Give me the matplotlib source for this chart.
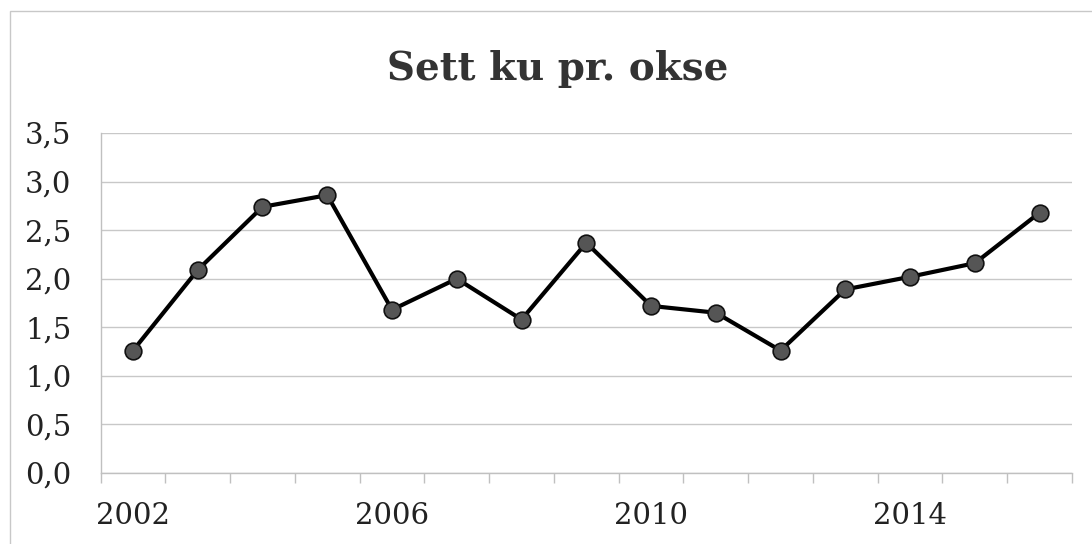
import matplotlib
matplotlib.use("Agg")
import matplotlib.pyplot as plt
from matplotlib.patches import Rectangle
from matplotlib.ticker import FixedLocator, FuncFormatter

title = "Sett ku pr. okse"
years = [2002, 2003, 2004, 2005, 2006, 2007, 2008, 2009, 2010, 2011, 2012, 2013, 2014, 2015, 2016]
values = [1.26, 2.09, 2.74, 2.86, 1.68, 2.00, 1.58, 2.37, 1.72, 1.65, 1.26, 1.89, 2.02, 2.16, 2.68]
year_labels = [2002, 2006, 2010, 2014]
y_ticks = [0.0, 0.5, 1.0, 1.5, 2.0, 2.5, 3.0, 3.5]

W, H = 1092, 544
fig = plt.figure(figsize=(W / 100, H / 100), dpi=100)
fig.patch.set_facecolor("white")

# outer chart border (cropped at right/bottom)
fig.add_artist(Rectangle((10 / W, -0.05), 1.2, 1 - 11 / H + 0.05, transform=fig.transFigure,
                         fill=False, edgecolor="#c8c8c8", linewidth=1.0))

ax = fig.add_axes([100.6 / W, 1 - 473 / H, (1072 - 100.6) / W, (473 - 133) / H])
ax.plot(years, values, color="black", linewidth=3, marker="o", markersize=12,
        markerfacecolor="#555555", markeredgecolor="#111111", markeredgewidth=1.2, zorder=3)

ax.set_xlim(years[0] - 0.5, years[-1] + 0.5)
ax.set_ylim(0, 3.5)
ax.set_yticks(y_ticks)
ax.yaxis.set_major_formatter(FuncFormatter(lambda v, p: f"{v:.1f}".replace(".", ",")))
ax.set_xticks(year_labels)
ax.set_xticklabels([str(y) for y in year_labels])
ax.xaxis.set_minor_locator(FixedLocator([y - 0.5 for y in years] + [years[-1] + 0.5]))

ax.grid(axis="y", color="#c8c8c8", linewidth=1.0)
ax.set_axisbelow(True)
for s in ["top", "right"]:
    ax.spines[s].set_visible(False)
ax.spines["left"].set_color("#c0c0c0")
ax.spines["bottom"].set_color("#c0c0c0")
ax.spines["left"].set_linewidth(1.0)
ax.spines["bottom"].set_linewidth(1.0)

font = "DejaVu Serif"
ax.tick_params(axis="y", length=0, pad=21, labelsize=21, labelcolor="#222222")
ax.tick_params(axis="x", which="major", length=0, pad=21, labelsize=21, labelcolor="#222222")
ax.tick_params(axis="x", which="minor", length=7, color="#c0c0c0", width=1.0)
for lab in ax.get_xticklabels() + ax.get_yticklabels():
    lab.set_fontfamily(font)

fig.text(558 / W, 1 - 69 / H, title, ha="center", va="center", fontsize=28,
         fontweight="bold", fontfamily=font, color="#333333")

fig.savefig("out.png", dpi=100)
